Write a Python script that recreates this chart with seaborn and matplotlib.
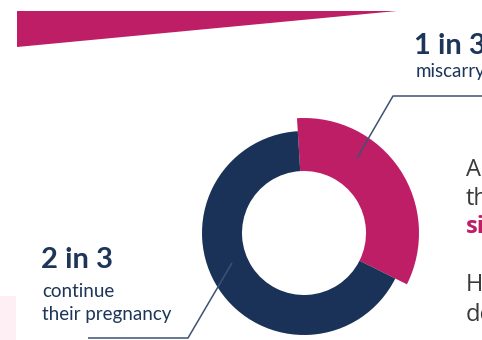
import matplotlib
matplotlib.use("Agg")
import matplotlib.pyplot as plt
import seaborn as sns

# Share of pregnancies after bleeding: 1 in 3 miscarry, 2 in 3 continue
categories = ["miscarry", "continue their pregnancy"]
shares = [1, 2]
headlines = ["1 in 3", "2 in 3"]

sns.set_theme(style="white")
plt.rcParams["font.family"] = ["Lato", "DejaVu Sans"]

palette = sns.color_palette(["#BE1E66", "#1A3257"])
PINK, NAVY = palette[0], palette[1]
TEXT_NAVY = "#1C3558"
LINE = "#3E5273"
GREY = "#3A3A3A"

W, H = 482, 340
fig = plt.figure(figsize=(W / 100, H / 100), dpi=100)
ax = fig.add_axes([0, 0, 1, 1])


def Y(y):
    return H - y


cx, cy = 304, Y(233)
start = 93.5

# Bands behind the chart
ax.fill([17, 397, 17], [Y(11), Y(11), Y(47)], color=PINK, lw=0, zorder=1)
ax.fill([0, 16, 16, 0], [Y(296), Y(296), Y(340), Y(340)], color="#FDEFF3", lw=0, zorder=1)

# Leader line for the larger share, tucked under the ring
ax.plot([88, 188, 232], [Y(338), Y(338), Y(263)], color=LINE, lw=1.1,
        solid_capstyle="butt", zorder=2)

# Outer, taller wedge for the smaller share
ax.pie(shares, radius=115, center=(cx, cy), startangle=start, counterclock=False,
       colors=[PINK, "none"], wedgeprops=dict(width=53, linewidth=0), frame=True)
# Ring segment for the larger share
ax.pie(shares, radius=102, center=(cx, cy), startangle=start, counterclock=False,
       colors=["none", NAVY], wedgeprops=dict(width=40, linewidth=0), frame=True)

# Leader line for the smaller share, drawn over the wedge
ax.plot([357, 393, 482], [Y(158), Y(96), Y(96)], color=LINE, lw=1.1,
        solid_capstyle="butt", zorder=5)

# Headlines and captions
ax.text(414, Y(54), headlines[0], fontsize=21, fontweight="bold", color=TEXT_NAVY,
        va="baseline", ha="left", zorder=6)
ax.text(416, Y(77), categories[0], fontsize=13.5, color=TEXT_NAVY,
        va="baseline", ha="left", zorder=6)

ax.text(41, Y(268), headlines[1], fontsize=21, fontweight="bold", color=TEXT_NAVY,
        va="baseline", ha="left", zorder=6)
ax.text(42, Y(297), "continue", fontsize=13.5, color=TEXT_NAVY,
        va="baseline", ha="left", zorder=6)
ax.text(42, Y(320), "their pregnancy", fontsize=13.5, color=TEXT_NAVY,
        va="baseline", ha="left", zorder=6)

# Body copy running off the right edge
body = [("Around", 176, GREY, "normal"),
        ("the", 205, GREY, "normal"),
        ("signs", 233, PINK, "bold"),
        ("How", 291, GREY, "normal"),
        ("do", 321, GREY, "normal")]
for word, base, col, wt in body:
    ax.text(466, Y(base), word, fontsize=17, color=col, fontweight=wt,
            family=["Open Sans", "DejaVu Sans"], va="baseline", ha="left", zorder=6)

ax.set_xlim(0, W)
ax.set_ylim(0, H)
ax.set_aspect("auto")
ax.axis("off")

fig.savefig("out.png", dpi=100, facecolor="white")
